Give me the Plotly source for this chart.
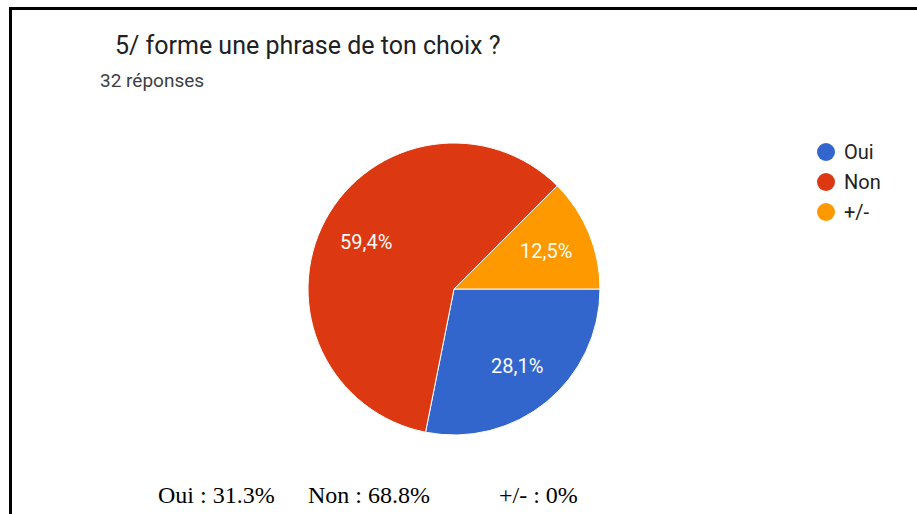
import math
import plotly.graph_objects as go

# Survey answers (32 responses)
categories = ["Oui", "Non", "+/-"]
counts = [9, 19, 4]
colors = ["#3366cc", "#dc3912", "#ff9900"]

title_text = "5/ forme une phrase de ton choix ?"
subtitle_text = "32 réponses"
summary_labels = ["Oui : 31.3%", "Non : 68.8%", "+/- : 0%"]
summary_x = [216, 369, 538]

W, H = 917, 514

# pie geometry (pixels)
cx, cy, r = 454, 289, 146
start_deg = 90  # first slice starts at 3 o'clock, going clockwise
label_frac = 0.685

fig = go.Figure()

fig.add_trace(go.Pie(
    labels=categories,
    values=counts,
    sort=False,
    direction="clockwise",
    rotation=start_deg,
    marker=dict(colors=colors, line=dict(color="white", width=1)),
    textinfo="none",
    domain=dict(x=[(cx - r) / W, (cx + r) / W], y=[1 - (cy + r) / H, 1 - (cy - r) / H]),
    showlegend=False,
    hoverinfo="label+percent",
))

annotations = [
    dict(text=title_text, x=113 / W, y=1 - 45 / H, xref="paper", yref="paper",
         xanchor="left", yanchor="middle", showarrow=False,
         font=dict(family="Roboto, Arial, sans-serif", size=25, color="#202124")),
    dict(text=subtitle_text, x=98 / W, y=1 - 80 / H, xref="paper", yref="paper",
         xanchor="left", yanchor="middle", showarrow=False,
         font=dict(family="Roboto, Arial, sans-serif", size=19, color="#3c4043")),
]

# percentage labels placed along each slice's middle angle
total = sum(counts)
acc = 0.0
for v in counts:
    share = v / total
    mid = math.radians(start_deg + 360 * (acc + share / 2))
    acc += share
    px = cx + label_frac * r * math.sin(mid)
    py = cy - label_frac * r * math.cos(mid)
    txt = f"{share * 100:.1f}%".replace(".", ",")
    annotations.append(dict(
        text=txt, x=px / W, y=1 - py / H, xref="paper", yref="paper",
        xanchor="center", yanchor="middle", showarrow=False,
        font=dict(family="Roboto, Arial, sans-serif", size=20, color="#fdfdfd"),
    ))

# legend with round markers
shapes = []
for i, (name, col) in enumerate(zip(categories, colors)):
    ly = 152 + 30 * i
    shapes.append(dict(type="circle", xref="paper", yref="paper",
                       x0=(826 - 9) / W, x1=(826 + 9) / W,
                       y0=1 - (ly + 9) / H, y1=1 - (ly - 9) / H,
                       fillcolor=col, line=dict(width=0)))
    annotations.append(dict(
        text=name, x=842 / W, y=1 - ly / H, xref="paper", yref="paper",
        xanchor="left", yanchor="middle", showarrow=False,
        font=dict(family="Roboto, Arial, sans-serif", size=20, color="#222222"),
    ))

for lab, xc in zip(summary_labels, summary_x):
    annotations.append(dict(
        text=lab, x=xc / W, y=1 - 495 / H, xref="paper", yref="paper",
        xanchor="center", yanchor="middle", showarrow=False,
        font=dict(family="Liberation Serif, Times New Roman, serif", size=24, color="black"),
    ))

# frame: top and left edges
shapes += [
    dict(type="line", xref="paper", yref="paper", x0=10.5 / W, x1=1.02,
         y0=1 - 8.5 / H, y1=1 - 8.5 / H, line=dict(color="black", width=3)),
    dict(type="line", xref="paper", yref="paper", x0=10.5 / W, x1=10.5 / W,
         y0=1 - 7 / H, y1=-0.02, line=dict(color="black", width=3)),
]

fig.update_layout(
    width=W, height=H,
    margin=dict(l=0, r=0, t=0, b=0),
    paper_bgcolor="white", plot_bgcolor="white",
    annotations=annotations,
    shapes=shapes,
)

fig.write_html("out.html")
